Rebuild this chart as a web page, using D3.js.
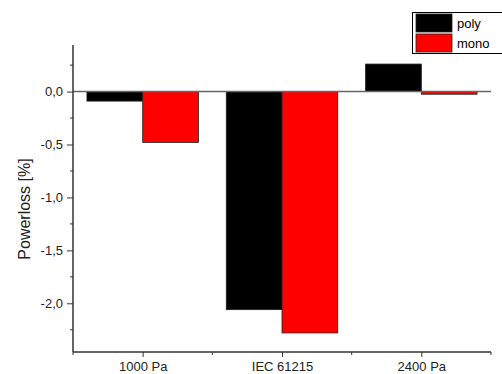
<!DOCTYPE html>
<html>
<head>
<meta charset="utf-8">
<script src="https://cdn.jsdelivr.net/npm/d3@7"></script>
<style>
  html, body { margin: 0; padding: 0; background: #fff; }
  svg { display: block; font-family: "Liberation Sans", Arial, sans-serif; }
</style>
</head>
<body>
<svg id="chart" width="502" height="374"></svg>
<script>
// Load cases on the x axis
const categories = ["1000 Pa", "IEC 61215", "2400 Pa"];
// Power loss per module type, in percent
const polyValues = [-0.09, -2.06, 0.26];
const monoValues = [-0.48, -2.28, -0.025];
const seriesNames = ["poly", "mono"];
const seriesColors = ["#000000", "#ff0000"];
// Y axis ticks
const yMajorTicks = [0, -0.5, -1.0, -1.5, -2.0];
const yMinorTicks = [0.25, -0.25, -0.75, -1.25, -1.75, -2.25];

const svg = d3.select("#chart");
const plot = { left: 73, right: 491, top: 45, bottom: 352 };

const x = d3.scaleLinear().domain([0.5, 3.5]).range([plot.left, plot.right]);
const y = d3.scaleLinear().domain([-2.46, 0.44]).range([plot.bottom, plot.top]);
const barW = (x(2) - x(1)) * 0.4;
const fmt = d => d3.format(".1f")(d).replace(".", ",").replace("−", "-");
const tickFont = 13;

const series = [polyValues, monoValues];

// Bars: poly left of the category centre, mono right of it
series.forEach((vals, s) => {
  svg.append("g").selectAll("rect").data(vals).join("rect")
    .attr("x", (d, i) => x(i + 1) + (s === 0 ? -barW : 0))
    .attr("y", d => y(Math.max(0, d)))
    .attr("width", barW)
    .attr("height", d => Math.abs(y(d) - y(0)))
    .attr("fill", seriesColors[s])
    .attr("stroke", "#222")
    .attr("stroke-width", 0.8);
});

// Zero reference line
svg.append("line")
  .attr("x1", plot.left).attr("x2", plot.right)
  .attr("y1", y(0)).attr("y2", y(0))
  .attr("stroke", "#666").attr("stroke-width", 1.5);

// Y axis
const yAxis = svg.append("g").attr("transform", `translate(${plot.left},0)`);
yAxis.call(d3.axisLeft(y).tickValues(yMajorTicks).tickSize(6).tickPadding(4).tickFormat(fmt));
yAxis.select(".domain").remove();
yAxis.selectAll(".tick line").attr("stroke", "#333");
yAxis.selectAll(".tick text").attr("font-size", tickFont).attr("fill", "#222")
  .attr("font-family", "Liberation Sans, Arial, sans-serif");
yAxis.append("g").selectAll("line").data(yMinorTicks).join("line")
  .attr("x1", -3).attr("x2", 0).attr("y1", d => y(d)).attr("y2", d => y(d))
  .attr("stroke", "#333");
svg.append("line").attr("x1", plot.left).attr("x2", plot.left)
  .attr("y1", plot.top).attr("y2", plot.bottom).attr("stroke", "#333").attr("stroke-width", 1.5);

// X axis
const xAxis = svg.append("g").attr("transform", `translate(0,${plot.bottom})`);
xAxis.call(d3.axisBottom(x).tickValues([1, 2, 3]).tickSize(5).tickPadding(5)
  .tickFormat(d => categories[d - 1]));
xAxis.select(".domain").remove();
xAxis.selectAll(".tick line").attr("stroke", "#333");
xAxis.selectAll(".tick text").attr("font-size", tickFont).attr("fill", "#222")
  .attr("font-family", "Liberation Sans, Arial, sans-serif");
xAxis.append("g").selectAll("line").data([0.5, 1.5, 2.5, 3.5]).join("line")
  .attr("x1", d => x(d)).attr("x2", d => x(d)).attr("y1", 0).attr("y2", 3)
  .attr("stroke", "#333");
svg.append("line").attr("x1", plot.left).attr("x2", plot.right)
  .attr("y1", plot.bottom).attr("y2", plot.bottom).attr("stroke", "#333").attr("stroke-width", 1.5);

// Y axis title
svg.append("text")
  .attr("transform", `translate(30,209) rotate(-90)`)
  .attr("text-anchor", "middle")
  .attr("font-size", 16).attr("fill", "#222")
  .text("Powerloss [%]");

// Legend
const legend = svg.append("g");
legend.append("rect").attr("x", 412.5).attr("y", 12.5).attr("width", 100).attr("height", 41)
  .attr("fill", "#fff").attr("stroke", "#000").attr("stroke-width", 1);
seriesNames.forEach((name, i) => {
  legend.append("rect").attr("x", 416).attr("y", 14 + i * 20).attr("width", 36).attr("height", 18)
    .attr("fill", seriesColors[i]).attr("stroke", "#222").attr("stroke-width", 0.8);
  legend.append("text").attr("x", 457).attr("y", 28 + i * 20)
    .attr("font-size", 13).attr("fill", "#000").text(name);
});
</script>
</body>
</html>
